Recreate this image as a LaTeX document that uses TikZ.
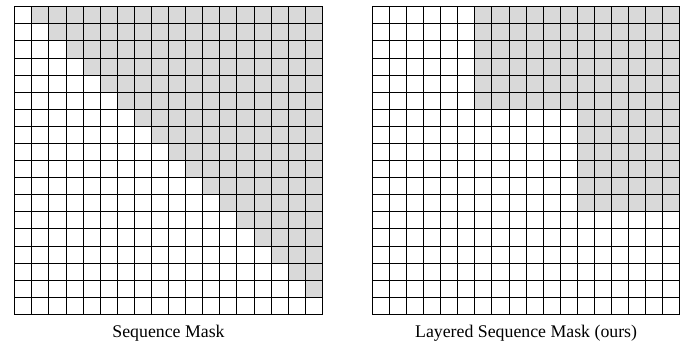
\documentclass[tikz,border=0pt]{standalone}
\usepackage{fontspec}
\setmainfont{Liberation Serif}
\usetikzlibrary{calc}

\begin{document}
\begin{tikzpicture}[x=1pt, y=1pt, line cap=rect, line join=miter]
% ---------- parameters ----------
\def\n{18}        % tokens per side
\def\c{17.09}     % cell size (pt)
\def\blk{6}       % tokens per layer block

\tikzset{
  masked/.style={fill=black!15},
  cellgrid/.style={line width=0.9pt, draw=black},
  caption/.style={anchor=base, font=\fontsize{17.8}{20}\selectfont}
}

\useasboundingbox (0,0) rectangle (697,341);

% ---------- sequence mask ----------
\coordinate (SM) at (14.7,334.3); % top-left corner
\begin{scope}[shift={(SM)}]
  \foreach \i in {0,...,16}
    \fill[masked] ({(\i+1)*\c},{-\i*\c}) rectangle ({\n*\c},{-(\i+1)*\c});
  \foreach \k in {0,...,\n}{
    \draw[cellgrid] ({\k*\c},0) -- ({\k*\c},{-\n*\c});
    \draw[cellgrid] (0,{-\k*\c}) -- ({\n*\c},{-\k*\c});
  }
\end{scope}
\node[caption] (capSM) at ($(SM)+({\n*\c/2},-330.6)$) {Sequence Mask};

% ---------- layered sequence mask ----------
\coordinate (LM) at (372.3,334.3); % top-left corner
\begin{scope}[shift={(LM)}]
  \foreach \k in {0,1}
    \fill[masked] ({(\k+1)*\blk*\c},{-\k*\blk*\c}) rectangle ({\n*\c},{-(\k+1)*\blk*\c});
  \foreach \k in {0,...,\n}{
    \draw[cellgrid] ({\k*\c},0) -- ({\k*\c},{-\n*\c});
    \draw[cellgrid] (0,{-\k*\c}) -- ({\n*\c},{-\k*\c});
  }
\end{scope}
\node[caption] (capLM) at ($(LM)+({\n*\c/2},-330.6)$) {Layered Sequence Mask (ours)};

\end{tikzpicture}
\end{document}
